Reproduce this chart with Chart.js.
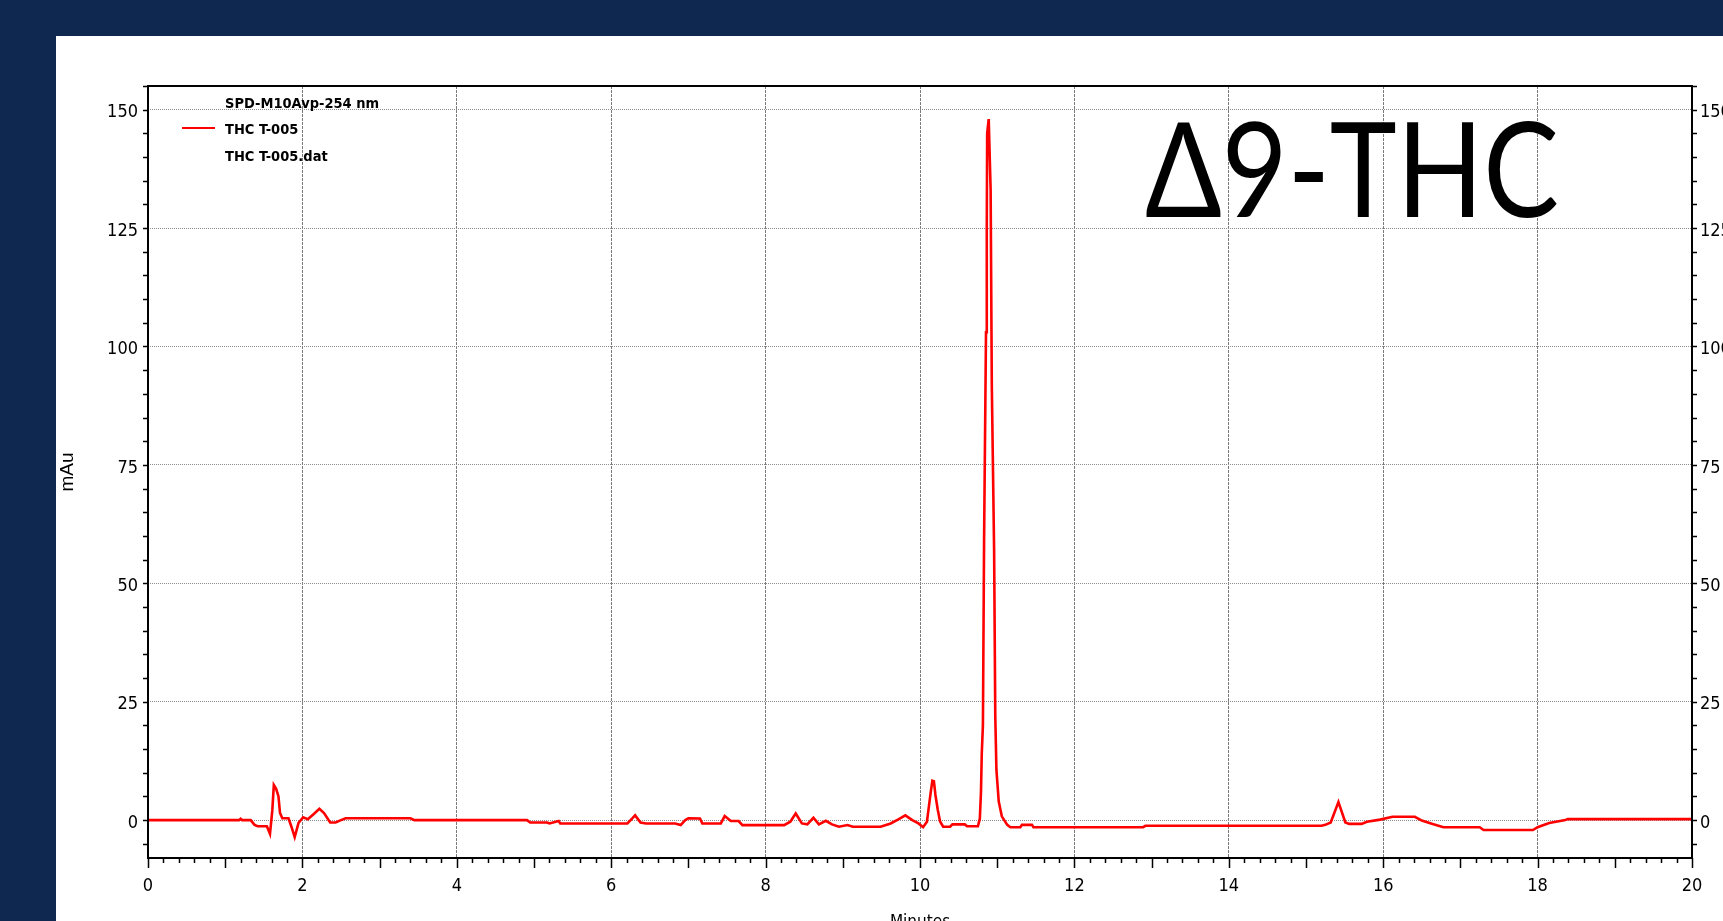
<!DOCTYPE html>
<html>
<head>
<meta charset="utf-8">
<title>Δ9-THC</title>
<script src="https://cdn.jsdelivr.net/npm/chart.js@4.4.1/dist/chart.umd.min.js"></script>
<style>
  html, body { margin: 0; padding: 0; background: #0f2850; overflow: hidden; }
  #panel { position: absolute; left: 56px; top: 36px; right: 0; bottom: 0; background: #fff; }
  #chart { position: absolute; left: 0; top: 0; }
</style>
</head>
<body>
<div id="panel"></div>
<canvas id="chart" width="1723" height="921"></canvas>
<script>
// retention time (min) and detector signal (mAu)
const minutes = [
  0.00, 1.18, 1.20, 1.22, 1.33, 1.38, 1.42, 1.54, 1.58, 1.61, 1.63, 1.66, 1.69, 1.71, 1.74, 1.82,
  1.86, 1.90, 1.95, 2.01, 2.07, 2.14, 2.22, 2.28, 2.36, 2.43, 2.50, 2.56, 3.40, 3.45, 4.91, 4.95,
  5.17, 5.20, 5.32, 5.34, 6.21, 6.27, 6.31, 6.38, 6.45, 6.83, 6.90, 6.96, 7.00, 7.15, 7.18, 7.42,
  7.47, 7.55, 7.65, 7.70, 8.24, 8.32, 8.39, 8.47, 8.54, 8.62, 8.69, 8.78, 8.86, 8.95, 9.06, 9.13,
  9.49, 9.62, 9.72, 9.81, 9.90, 9.98, 10.04, 10.09, 10.11, 10.14, 10.16, 10.18, 10.20, 10.23, 10.26, 10.30,
  10.39, 10.42, 10.58, 10.61, 10.75, 10.775, 10.79, 10.80, 10.815, 10.83, 10.855, 10.865, 10.87, 10.89, 10.905, 10.915,
  10.93, 10.96, 10.975, 10.99, 11.02, 11.06, 11.13, 11.17, 11.30, 11.32, 11.45, 11.47, 12.89, 12.92, 15.20, 15.25,
  15.32, 15.42, 15.51, 15.56, 15.72, 15.79, 15.96, 16.12, 16.41, 16.50, 16.64, 16.78, 17.25, 17.30, 17.94, 18.00,
  18.15, 18.36, 18.39, 20.00
];
const mAu = [
  0, 0, 0.3, 0, 0, -1.0, -1.3, -1.3, -2.9, 2.0, 7.4, 6.6, 5.0, 1.5, 0.4, 0.4,
  -1.5, -3.6, -0.6, 0.6, 0.2, 1.2, 2.4, 1.5, -0.5, -0.5, 0, 0.4, 0.4, 0, 0, -0.5,
  -0.5, -0.7, -0.2, -0.7, -0.7, 0.3, 1.0, -0.5, -0.7, -0.7, -1.05, 0, 0.4, 0.35, -0.7, -0.7,
  0.85, -0.2, -0.2, -1.05, -1.05, -0.35, 1.4, -0.7, -0.9, 0.5, -0.9, -0.15, -0.9, -1.4, -1.05, -1.4,
  -1.4, -0.7, 0.15, 1.0, 0, -0.7, -1.5, -0.35, 2.2, 6.0, 8.3, 8.2, 5.3, 2.2, -0.3, -1.4,
  -1.4, -0.9, -0.9, -1.3, -1.3, 0.3, 6.0, 14, 20, 59, 103, 125, 145, 148, 139, 133,
  92, 57, 22, 10.6, 3.9, 0.8, -1.0, -1.5, -1.5, -1.0, -1.0, -1.5, -1.5, -1.2, -1.2, -1.0,
  -0.5, 3.8, -0.5, -0.8, -0.8, -0.35, 0.1, 0.7, 0.7, -0.1, -0.8, -1.5, -1.5, -2.1, -2.1, -1.5,
  -0.6, 0, 0.2, 0.2
];
const xTicks = [0, 2, 4, 6, 8, 10, 12, 14, 16, 18, 20];
const yTicks = [0, 25, 50, 75, 100, 125, 150];
const legendLines = ["SPD-M10Avp-254 nm", "THC T-005", "THC T-005.dat"];
const peakName = "Δ9-THC";

const narrow = "'Liberation Sans Narrow', 'Arial Narrow', 'DejaVu Sans Condensed', sans-serif";

// frame, minor tick marks, legend and the big label
const decor = {
  id: 'decor',
  afterDraw(chart) {
    const { ctx, chartArea: a, scales: { x, y } } = chart;
    ctx.save();
    ctx.strokeStyle = '#000';
    ctx.lineWidth = 1.5;
    ctx.beginPath();
    for (let v = -5; v <= 155; v += 5) {
      const py = Math.round(y.getPixelForValue(v)) + 0.5;
      ctx.moveTo(a.left - 5, py); ctx.lineTo(a.left, py);
      ctx.moveTo(a.right, py); ctx.lineTo(a.right + 5, py);
    }
    for (let k = 0; k <= 100; k++) {
      const px = Math.round(x.getPixelForValue(k / 5)) + 0.5;
      ctx.moveTo(px, a.bottom); ctx.lineTo(px, a.bottom + (k % 5 === 0 ? 10 : 5));
    }
    ctx.stroke();
    ctx.lineWidth = 2;
    ctx.strokeRect(a.left, a.top, a.right - a.left, a.bottom - a.top);

    // legend
    ctx.fillStyle = '#000';
    ctx.font = "bold 14.5px " + narrow;
    ctx.textBaseline = 'middle';
    ctx.textAlign = 'left';
    const ly = [104, 130, 157];
    legendLines.forEach((t, i) => ctx.fillText(t, 225, ly[i]));
    ctx.strokeStyle = '#ff0000';
    ctx.lineWidth = 2;
    ctx.beginPath();
    ctx.moveTo(182, 128); ctx.lineTo(215, 128);
    ctx.stroke();

    // compound label, squeezed to the width it has in the slide
    ctx.font = "132px Lato, 'Open Sans', sans-serif";
    ctx.textBaseline = 'alphabetic';
    const w = ctx.measureText(peakName).width;
    ctx.translate(1145, 217);
    ctx.scale(414 / w, 1);
    ctx.fillText(peakName, 0, 0);
    ctx.restore();
  }
};

new Chart(document.getElementById('chart'), {
  type: 'line',
  data: {
    datasets: [{
      label: 'THC T-005',
      data: minutes.map((m, i) => ({ x: m, y: mAu[i] })),
      borderColor: '#ff0000',
      borderWidth: 2.6,
      pointRadius: 0,
      tension: 0,
      fill: false
    }]
  },
  options: {
    responsive: false,
    animation: false,
    layout: { padding: { left: 56, top: 86, right: 0, bottom: 0 } },
    plugins: { legend: { display: false }, tooltip: { enabled: false } },
    scales: {
      x: {
        type: 'linear', min: 0, max: 20,
        afterBuildTicks: s => { s.ticks = xTicks.map(v => ({ value: v })); },
        afterFit: s => { s.height = 63; },
        ticks: { color: '#000', font: { family: narrow, size: 18 }, padding: 18, maxRotation: 0, autoSkip: false },
        grid: {
          color: c => (c.tick && c.tick.value > 0 && c.tick.value < 20) ? '#7a7a7a' : 'transparent',
          lineWidth: 1, drawTicks: false
        },
        border: { display: false, dash: [3, 1] },
        title: { display: true, text: 'Minutes', color: '#000', font: { family: narrow, size: 17 }, padding: { top: 0, bottom: -12 } }
      },
      y: {
        position: 'left', min: -8, max: 155,
        afterBuildTicks: s => { s.ticks = yTicks.map(v => ({ value: v })); },
        afterFit: s => { s.width = 92; },
        ticks: { color: '#000', font: { family: narrow, size: 18 }, padding: 10, labelOffset: 3, autoSkip: false },
        grid: { color: '#8c8c8c', lineWidth: 1, drawTicks: false },
        border: { display: false, dash: [1, 1] },
        title: { display: true, text: 'mAu', color: '#000', font: { family: "'Liberation Sans', Arial, sans-serif", size: 19 }, padding: { top: 0, bottom: 0 } }
      },
      y2: {
        position: 'right', min: -8, max: 155,
        afterBuildTicks: s => { s.ticks = yTicks.map(v => ({ value: v })); },
        afterFit: s => { s.width = 31; },
        ticks: { color: '#000', font: { family: narrow, size: 18 }, padding: 8, labelOffset: 3, autoSkip: false },
        grid: { drawOnChartArea: false, drawTicks: false },
        border: { display: false }
      }
    }
  },
  plugins: [decor]
});
</script>
</body>
</html>
